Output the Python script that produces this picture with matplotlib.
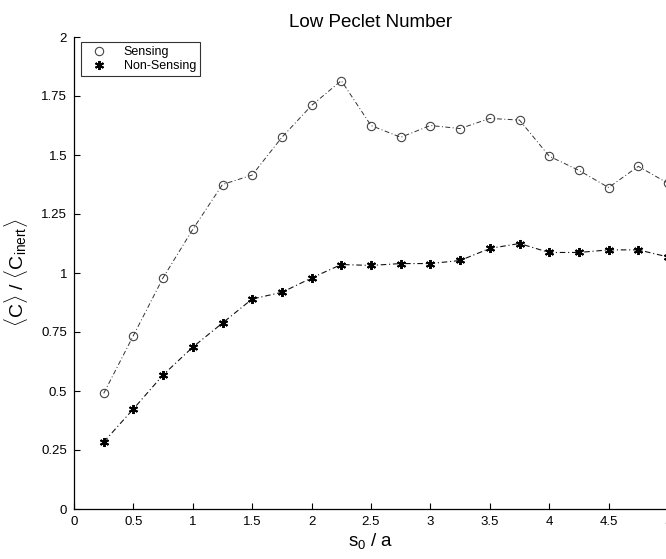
import matplotlib
matplotlib.use("Agg")
import matplotlib.pyplot as plt

plt.rcParams['font.family'] = ['Liberation Sans', 'DejaVu Sans']
plt.rcParams['mathtext.fontset'] = 'custom'
plt.rcParams['mathtext.rm'] = 'Liberation Sans'
plt.rcParams['mathtext.it'] = 'Liberation Sans'

x = [0.25, 0.5, 0.75, 1.0, 1.25, 1.5, 1.75, 2.0, 2.25, 2.5,
     2.75, 3.0, 3.25, 3.5, 3.75, 4.0, 4.25, 4.5, 4.75, 5.0]
sensing = [0.49, 0.735, 0.98, 1.185, 1.375, 1.415, 1.575, 1.71, 1.815, 1.625,
           1.575, 1.625, 1.612, 1.655, 1.648, 1.495, 1.435, 1.362, 1.452, 1.38]
non_sensing = [0.284, 0.424, 0.568, 0.686, 0.788, 0.89, 0.918, 0.979, 1.036, 1.032,
               1.04, 1.04, 1.053, 1.104, 1.125, 1.087, 1.087, 1.098, 1.098, 1.068]
xticks = [0, 0.5, 1, 1.5, 2, 2.5, 3, 3.5, 4, 4.5, 5]
xticklabels = ['0', '0.5', '1', '1.5', '2', '2.5', '3', '3.5', '4', '4.5', '5']
yticks = [0, 0.25, 0.5, 0.75, 1, 1.25, 1.5, 1.75, 2]
yticklabels = ['0', '0.25', '0.5', '0.75', '1', '1.25', '1.5', '1.75', '2']

fig = plt.figure(figsize=(6.66, 5.59), dpi=100)
ax = fig.add_axes([74/666, 50/559, (668-74)/666, 472/559])

ls = (0, (5, 2.5, 1, 2.5))
ax.plot(x, sensing, linestyle=ls, color='#333333', lw=0.7, marker='o',
        mfc='none', mec='#444444', ms=6, mew=0.8, label='Sensing')
ax.plot(x, non_sensing, linestyle=ls, color='#111111', lw=0.8, marker=(6, 2, 0),
        mfc='black', mec='black', ms=6.5, mew=1.4, label='Non-Sensing')

ax.set_xlim(0, 5)
ax.set_ylim(0, 2)
ax.set_xticks(xticks)
ax.set_xticklabels(xticklabels)
ax.set_yticks(yticks)
ax.set_yticklabels(yticklabels)
ax.tick_params(direction='in', length=4, width=0.8, labelsize=9.5, pad=5)
ax.spines['top'].set_visible(False)
for s in ['left', 'bottom', 'right']:
    ax.spines[s].set_linewidth(0.9)

ax.set_title('Low Peclet Number', fontsize=13.5, pad=7)
ax.set_xlabel(r'$s_0$ / a', fontsize=13.5, labelpad=2)
ax.set_ylabel(r'$\langle$C$\rangle$ / $\langle$C$_{inert}\rangle$', fontsize=14, labelpad=8)

leg = ax.legend(loc='upper left', bbox_to_anchor=(0.011, 0.99), borderaxespad=0,
                fontsize=9, frameon=True, fancybox=False, edgecolor='black',
                handlelength=2.2, borderpad=0.35, labelspacing=0.15, handletextpad=0.9)
leg.get_frame().set_linewidth(0.8)
for h in leg.get_lines():
    h.set_linestyle('none')

fig.savefig('out.png', dpi=100)
